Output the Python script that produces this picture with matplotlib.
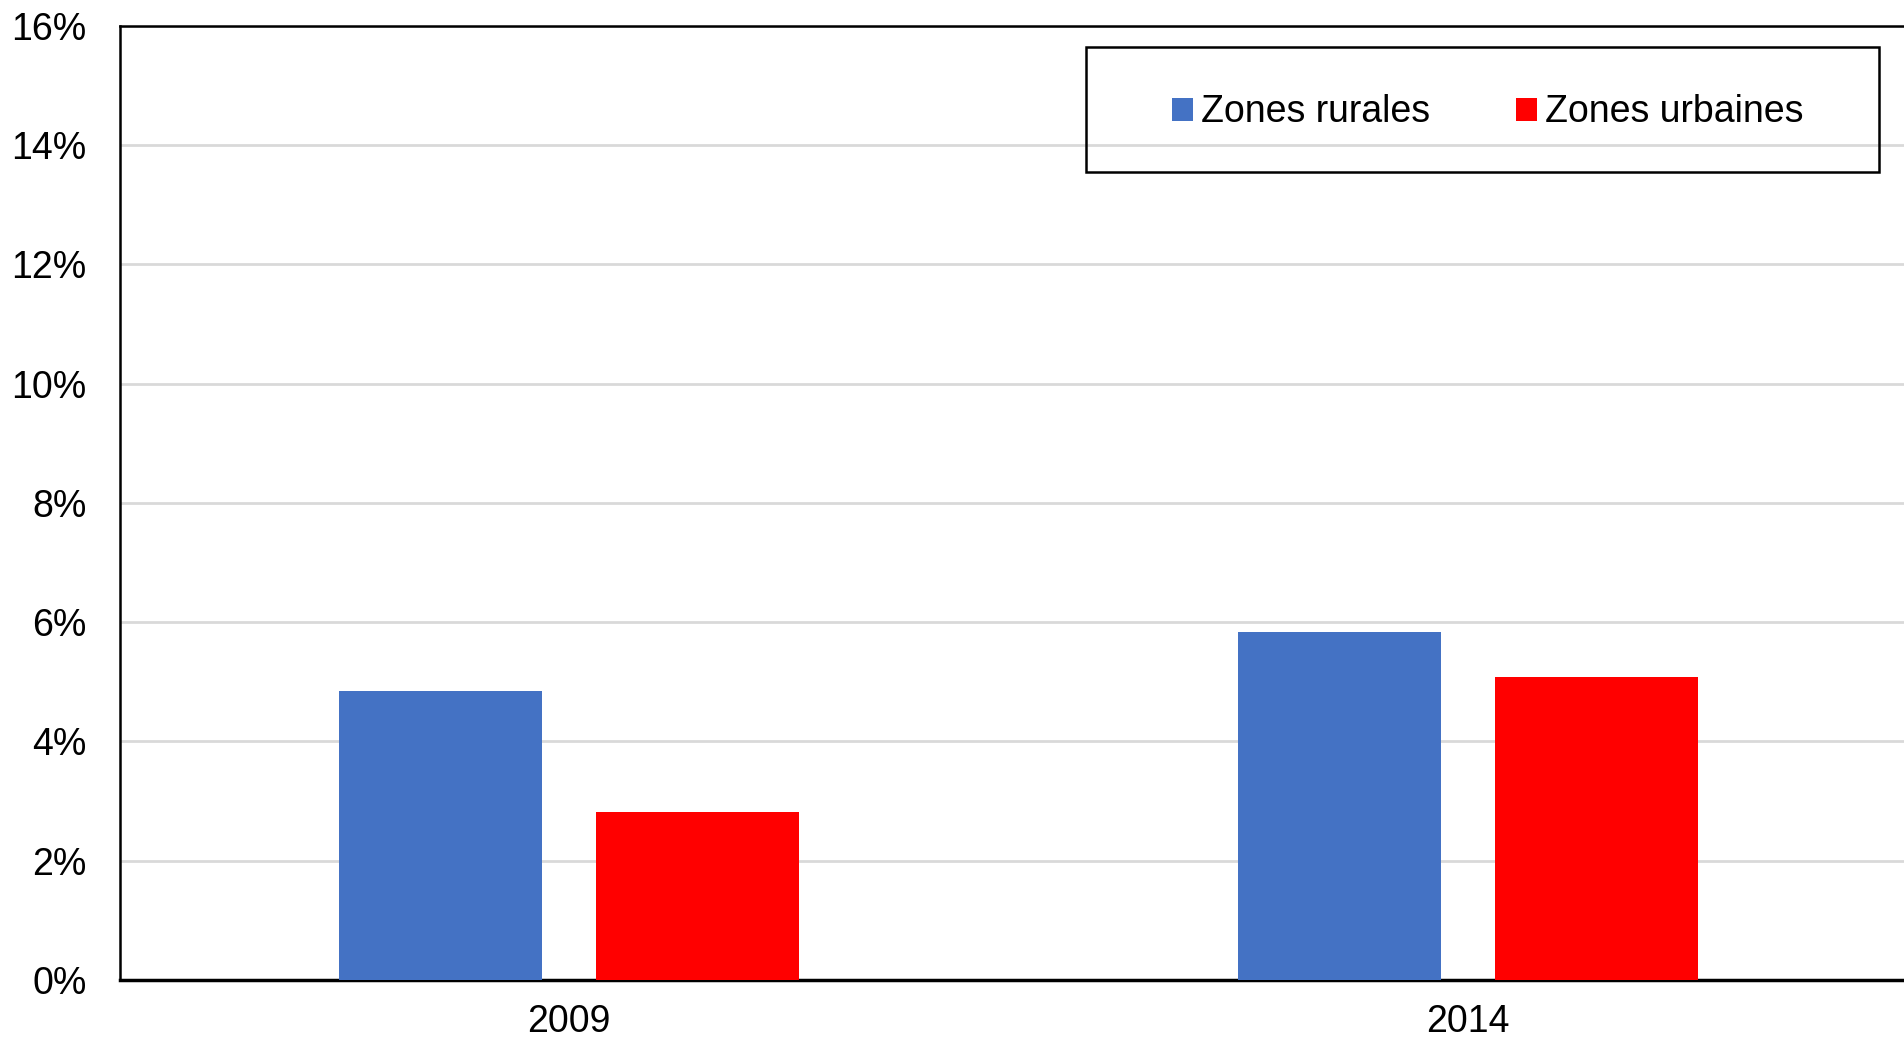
import numpy as np
import matplotlib.pyplot as plt
from matplotlib.patches import Rectangle

plt.rcParams['font.family'] = ['Liberation Sans', 'DejaVu Sans']

# Data
years = ["2009", "2014"]
rurales = [4.85, 5.83]
urbaines = [2.81, 5.08]
series_names = ["Zones rurales", "Zones urbaines"]
colors = ["#4472C4", "#FF0000"]

fig = plt.figure(figsize=(19.04, 10.40), dpi=100)
ax = fig.add_axes([0.063, 0.0577, 0.9438, 0.9173])

x = np.arange(len(years))
w = 0.226
off = 0.143
ax.bar(x - off, rurales, w, color=colors[0], label=series_names[0], zorder=3)
ax.bar(x + off, urbaines, w, color=colors[1], label=series_names[1], zorder=3)

ax.set_xlim(-0.5, 1.5)
ax.set_ylim(0, 16)
ax.set_yticks(np.arange(0, 17, 2))
ax.set_yticklabels([f"{v}%" for v in range(0, 17, 2)])
ax.set_xticks(x)
ax.set_xticklabels(years)
ax.tick_params(axis='both', length=0, labelsize=27, colors='black')
ax.tick_params(axis='y', pad=24)
ax.tick_params(axis='x', pad=17)

ax.yaxis.grid(True, color='#d9d9d9', linewidth=2, zorder=0)
ax.set_axisbelow(True)
for s in ['left', 'top', 'right']:
    ax.spines[s].set_linewidth(1.8)
    ax.spines[s].set_color('black')
ax.spines['bottom'].set_linewidth(2.5)
ax.spines['bottom'].set_color('black')

# legend box
fig.patches.append(Rectangle((1086 / 1904, 1 - 172 / 1040), 793 / 1904, 125 / 1040,
                             transform=fig.transFigure, fill=False,
                             edgecolor='black', linewidth=1.8, zorder=5))
ax.legend(loc='center', bbox_to_anchor=(1488 / 1904, 1 - 112.5 / 1040),
          bbox_transform=fig.transFigure, ncol=2, frameon=False, fontsize=27,
          handlelength=0.55, handleheight=0.55, handletextpad=0.22,
          columnspacing=2.3)

fig.savefig("out.png", dpi=100)
